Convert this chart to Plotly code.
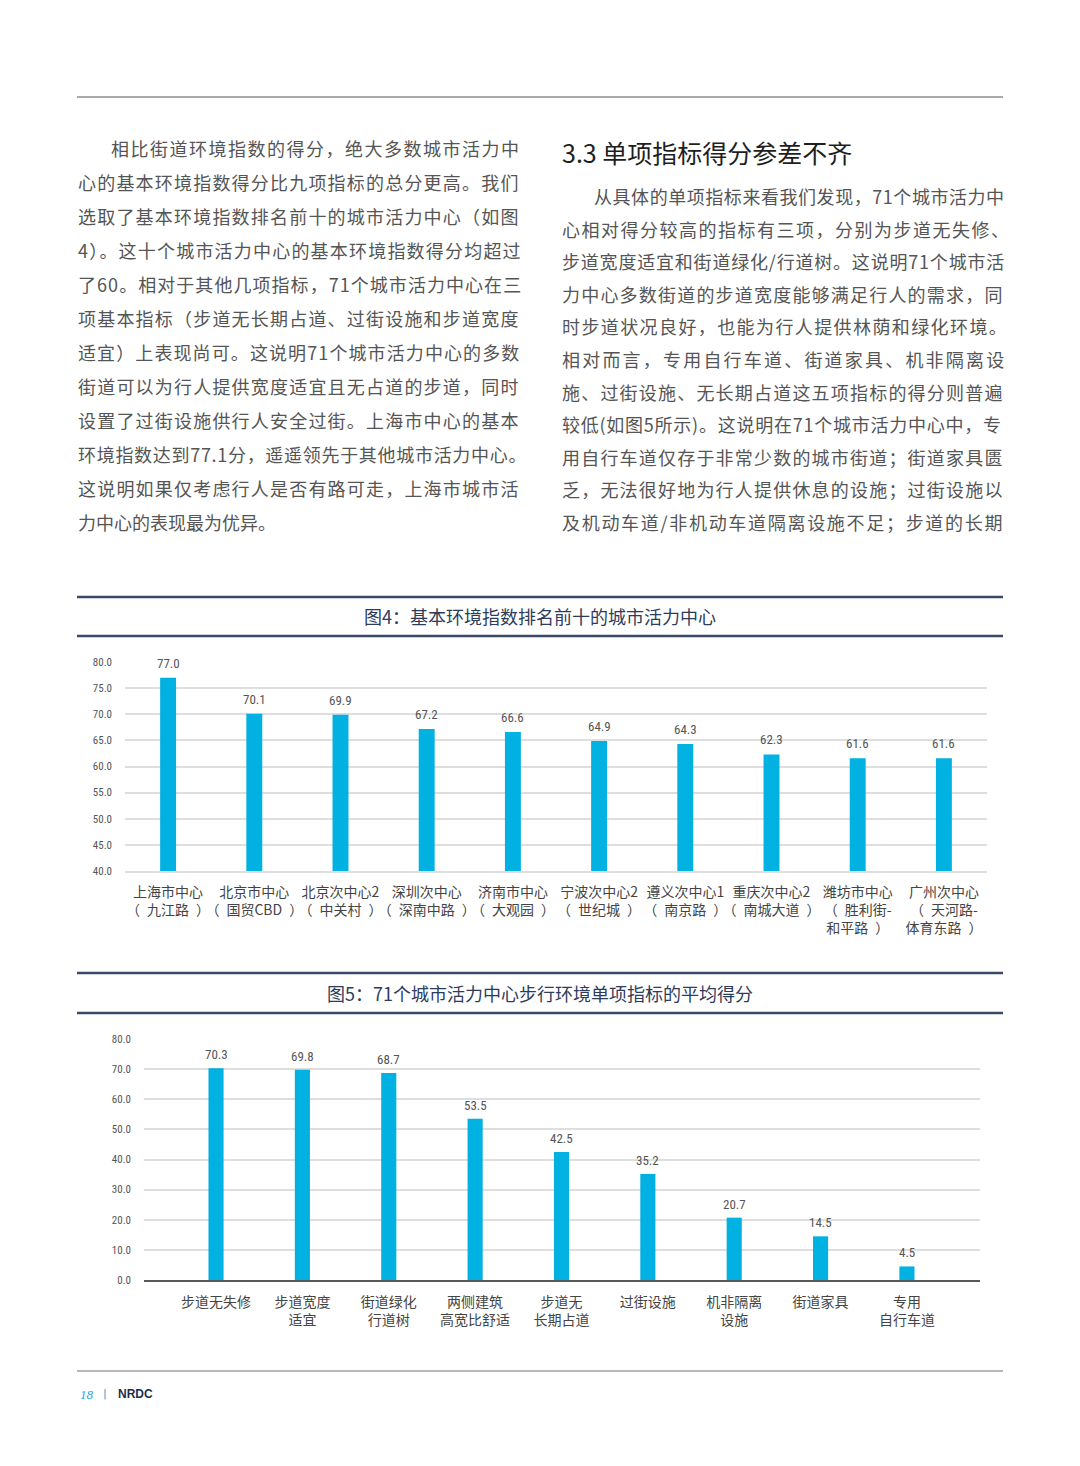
import plotly.graph_objects as go

W, H = 1080, 1466

# ---------------- data ----------------
cats1 = ["上海市中心<br>（\u2002九江路\u2002）", "北京市中心<br>（\u2002国贸CBD\u2002）",
         "北京次中心2<br>（\u2002中关村\u2002）", "深圳次中心<br>（\u2002深南中路\u2002）",
         "济南市中心<br>（\u2002大观园\u2002）", "宁波次中心2<br>（\u2002世纪城\u2002）",
         "遵义次中心1<br>（\u2002南京路\u2002）", "重庆次中心2<br>（\u2002南城大道\u2002）",
         "潍坊市中心<br>（\u2002胜利街-<br>和平路\u2002）", "广州次中心<br>（\u2002天河路-<br>体育东路\u2002）"]
vals1 = [77.0, 70.1, 69.9, 67.2, 66.6, 64.9, 64.3, 62.3, 61.6, 61.6]

cats2 = ["步道无失修", "步道宽度<br>适宜", "街道绿化<br>行道树", "两侧建筑<br>高宽比舒适",
         "步道无<br>长期占道", "过街设施", "机非隔离<br>设施", "街道家具", "专用<br>自行车道"]
vals2 = [70.3, 69.8, 68.7, 53.5, 42.5, 35.2, 20.7, 14.5, 4.5]

ticks1 = [40, 45, 50, 55, 60, 65, 70, 75, 80]
ticks2 = [0, 10, 20, 30, 40, 50, 60, 70, 80]

title1 = "图4：基本环境指数排名前十的城市活力中心"
title2 = "图5：71个城市活力中心步行环境单项指标的平均得分"
heading = "3.3 单项指标得分参差不齐"

left_lines = [
    "相比街道环境指数的得分，绝大多数城市活力中",
    "心的基本环境指数得分比九项指标的总分更高。我们",
    "选取了基本环境指数排名前十的城市活力中心（如图",
    "4）。这十个城市活力中心的基本环境指数得分均超过",
    "了60。相对于其他几项指标，71个城市活力中心在三",
    "项基本指标（步道无长期占道、过街设施和步道宽度",
    "适宜）上表现尚可。这说明71个城市活力中心的多数",
    "街道可以为行人提供宽度适宜且无占道的步道，同时",
    "设置了过街设施供行人安全过街。上海市中心的基本",
    "环境指数达到77.1分，遥遥领先于其他城市活力中心。",
    "这说明如果仅考虑行人是否有路可走，上海市城市活",
    "力中心的表现最为优异。",
]
right_lines = [
    "从具体的单项指标来看我们发现，71个城市活力中",
    "心相对得分较高的指标有三项，分别为步道无失修、",
    "步道宽度适宜和街道绿化/行道树。这说明71个城市活",
    "力中心多数街道的步道宽度能够满足行人的需求，同",
    "时步道状况良好，也能为行人提供林荫和绿化环境。",
    "相对而言，专用自行车道、街道家具、机非隔离设",
    "施、过街设施、无长期占道这五项指标的得分则普遍",
    "较低(如图5所示)。这说明在71个城市活力中心中，专",
    "用自行车道仅存于非常少数的城市街道；街道家具匮",
    "乏，无法很好地为行人提供休息的设施；过街设施以",
    "及机动车道/非机动车道隔离设施不足；步道的长期",
]
footer_page = "18"
footer_org = "NRDC"

# letter spacing (px) per body line to imitate the justified column
left_ls = [1.5, 1.2, 1.2, 1.2, 1.05, 1.2, 1.1, 1.2, 1.2, 0.7, 1.2, 0.0]
right_ls = [0.55, 1.5, 0.8, 1.2, 1.4, 2.2, 1.2, 0.75, 1.2, 1.2, 1.7]

# ---------------- helpers ----------------
def fx(p):
    return p / W

def fy(p):
    return 1 - p / H

CJK = "Noto Sans CJK SC, Noto Sans, sans-serif"
NARROW = "Liberation Sans Narrow, Roboto Condensed, DejaVu Sans Condensed, Arial Narrow, Roboto, sans-serif"
BAR = "#00b1e2"

fig = go.Figure()
fig.add_trace(go.Bar(x=cats1, y=vals1, width=0.185, marker=dict(color=BAR, line=dict(width=0)),
                     xaxis="x", yaxis="y", showlegend=False, hoverinfo="x+y"))
fig.add_trace(go.Bar(x=cats2, y=vals2, width=0.175, marker=dict(color=BAR, line=dict(width=0)),
                     xaxis="x2", yaxis="y2", showlegend=False, hoverinfo="x+y"))

axis_common_y = dict(tickformat=".1f", gridcolor="#dedede", gridwidth=1.5, zeroline=False,
                     showline=False, ticks="", ticklabelstandoff=12, automargin=False,
                     tickfont=dict(family=NARROW, size=11, color="#555555"), fixedrange=True)

fig.update_layout(
    template="none",
    width=W, height=H, autosize=False,
    margin=dict(l=0, r=0, t=0, b=0, pad=0),
    paper_bgcolor="white", plot_bgcolor="white",
    showlegend=False,
    xaxis=dict(domain=[fx(125), fx(987)], anchor="y", showline=True, linecolor="#dedede",
               linewidth=1.5, ticks="", showgrid=False, ticklabelstandoff=7, automargin=False,
               zeroline=False, fixedrange=True, tickangle=0,
               tickfont=dict(family=CJK, size=14, color="#444444")),
    yaxis=dict(domain=[fy(871), fy(662)], anchor="x", range=[40, 80], tickvals=ticks1,
               **axis_common_y),
    xaxis2=dict(domain=[fx(144), fx(980)], anchor="y2", range=[-0.834, 8.846], showline=True,
                linecolor="#595959", linewidth=2, ticks="", showgrid=False, ticklabelstandoff=8,
                automargin=False, zeroline=False, fixedrange=True, tickangle=0,
                tickfont=dict(family=CJK, size=14, color="#444444")),
    yaxis2=dict(domain=[fy(1280), fy(1039)], anchor="x2", range=[0, 80], tickvals=ticks2,
                **axis_common_y),
)

shapes = []
def hline(y, color, width, x0=77, x1=1003):
    shapes.append(dict(type="line", xref="paper", yref="paper", x0=fx(x0), x1=fx(x1),
                       y0=fy(y), y1=fy(y), line=dict(color=color, width=width)))

hline(97, "#8c8c8c", 1.5)
hline(597, "#3b4969", 2.5)
hline(636, "#3b4969", 2.5)
hline(973, "#3b4969", 2.5)
hline(1013, "#3b4969", 2.5)
hline(1371, "#b8b8b8", 2)
fig.update_layout(shapes=shapes)

anns = []
# value labels placed on the axes' own data scales
for c, v in zip(cats1, vals1):
    anns.append(dict(xref="x", yref="y", x=c, y=v, text=f"{v:.1f}", showarrow=False,
                     xanchor="center", yanchor="bottom", yshift=5,
                     font=dict(family=NARROW, size=13, color="#555555")))
for c, v in zip(cats2, vals2):
    anns.append(dict(xref="x2", yref="y2", x=c, y=v, text=f"{v:.1f}", showarrow=False,
                     xanchor="center", yanchor="bottom", yshift=4,
                     font=dict(family=NARROW, size=13, color="#555555")))

def text(x, y, s, size, color, family=CJK, xanchor="left"):
    anns.append(dict(xref="paper", yref="paper", x=fx(x), y=fy(y), text=s, showarrow=False,
                     xanchor=xanchor, yanchor="middle", font=dict(family=family, size=size, color=color)))

def spaced(s, ls):
    return f'<span style="letter-spacing:{ls}px">{s}</span>'

text(540, 616, title1, 18, "#2e3c5c", xanchor="center")
text(540, 993, title2, 18, "#2e3c5c", xanchor="center")
text(560, 152, heading, 25, "#1e1e1e")

for i, s in enumerate(left_lines):
    text(109 if i == 0 else 76, 148 + 34 * i, spaced(s, left_ls[i]), 18, "#555555")
for i, s in enumerate(right_lines):
    text(592 if i == 0 else 560, 196 + 32.6 * i, spaced(s, right_ls[i]), 18, "#555555")

anns.append(dict(xref="paper", yref="paper", x=fx(78), y=fy(1394), text=f"<i>{footer_page}</i>",
                 showarrow=False, xanchor="left", yanchor="middle",
                 font=dict(family="Liberation Serif, serif", size=13, color="#1ea5e0")))
text(101, 1393, "|", 11, "#1ea5e0", family="DejaVu Sans")
anns.append(dict(xref="paper", yref="paper", x=fx(116), y=fy(1394), text=f"<b>{footer_org}</b>",
                 showarrow=False, xanchor="left", yanchor="middle",
                 font=dict(family="Liberation Sans, Arial, sans-serif", size=12, color="#1f2d4d")))
fig.update_layout(annotations=anns)

fig.write_html("out.html", post_script="document.body.style.margin='0';",
               config={"displayModeBar": False})
